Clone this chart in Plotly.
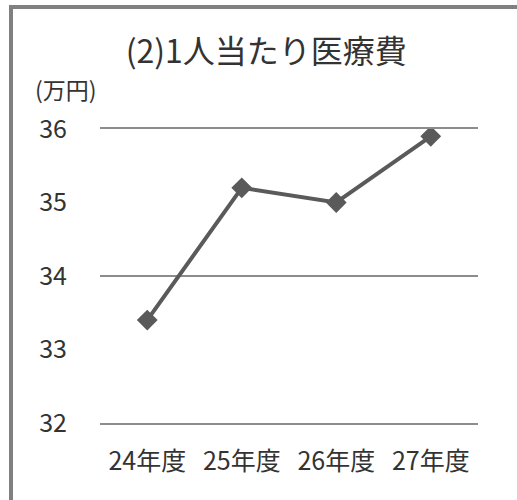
import plotly.graph_objects as go

categories = ["24年度", "25年度", "26年度", "27年度"]
values = [33.4, 35.2, 35.0, 35.9]
ytick_vals = [32, 33, 34, 35, 36]
grid_vals = [32, 34, 36]
title_text = "(2)1人当たり医療費"
unit_text = "(万円)"

FONT = "Noto Sans CJK JP"
TXT = "#333333"
GRID = "#8c8c8c"

fig = go.Figure()
fig.add_trace(go.Scatter(
    x=categories, y=values, mode="lines+markers",
    line=dict(color="#5a5a5a", width=4),
    marker=dict(symbol="diamond", size=16, color="#5a5a5a"),
    showlegend=False, yaxis="y2", hoverinfo="skip",
))
fig.add_trace(go.Scatter(
    x=categories, y=values, mode="lines", line=dict(width=0, color="rgba(0,0,0,0)"),
    showlegend=False, yaxis="y", hoverinfo="skip",
))

def xp(px):
    return (px - 100) / 378

def yp(py):
    return (423 - py) / 294

fig.update_layout(
    width=517, height=500,
    margin=dict(l=100, r=39, t=129, b=77),
    paper_bgcolor="white", plot_bgcolor="white",
    font=dict(family=FONT, color=TXT),
    title=dict(text=title_text, x=0.515, xanchor="center", y=1 - 52 / 500, yanchor="middle",
               font=dict(size=32, family=FONT, color=TXT)),
    xaxis=dict(type="category", range=[-0.5, len(categories) - 0.5], autorange=False,
               showgrid=False, zeroline=False,
               showline=True, mirror=True, linecolor=GRID, linewidth=2,
               ticks="outside", ticklen=15, tickcolor="rgba(0,0,0,0)",
               tickfont=dict(size=25, family=FONT, color=TXT)),
    yaxis=dict(range=[32, 36], tickmode="array", tickvals=ytick_vals,
               showgrid=False, zeroline=False, showline=False,
               ticks="outside", ticklen=27, tickcolor="rgba(0,0,0,0)",
               tickfont=dict(size=25, family=FONT, color=TXT)),
    yaxis2=dict(range=[32, 36], overlaying="y", side="left", tickmode="array", tickvals=grid_vals,
                showgrid=True, gridcolor=GRID, gridwidth=2, showticklabels=False,
                zeroline=False, showline=False, ticks=""),
    annotations=[dict(text=unit_text, xref="paper", yref="paper",
                      x=xp(33), y=yp(89), xanchor="left", yanchor="middle",
                      showarrow=False, font=dict(size=23, family=FONT, color=TXT))],
    shapes=[
        dict(type="rect", xref="paper", yref="paper", x0=xp(11), x1=xp(560),
             y0=yp(560), y1=yp(7), line=dict(color="#808080", width=4),
             fillcolor="rgba(0,0,0,0)", layer="above"),
    ],
)

fig.write_html("out.html", config={"displayModeBar": False},
               post_script="document.body.style.margin='0';")
